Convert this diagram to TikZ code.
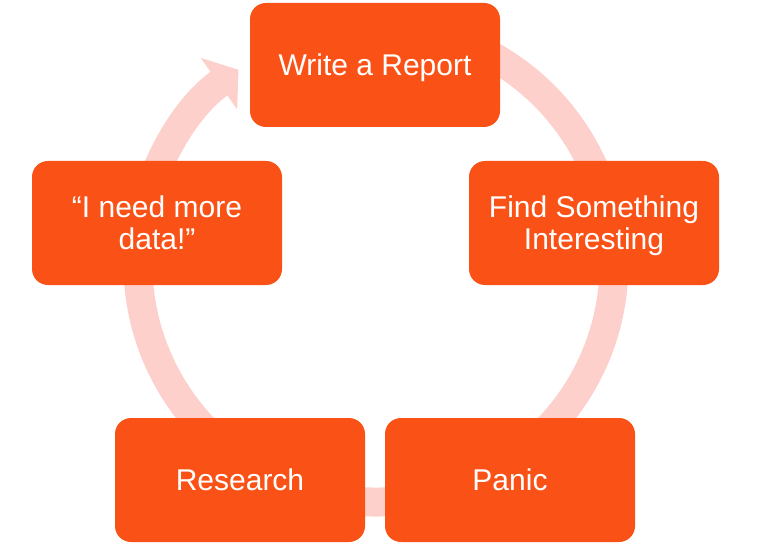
\documentclass[tikz,border=0pt]{standalone}
\usepackage{fontspec}
\setmainfont{Liberation Sans}
\usetikzlibrary{arrows.meta}
\definecolor{boxorange}{RGB}{250,82,22}
\definecolor{ringpink}{RGB}{253,208,204}

\begin{document}
\begin{tikzpicture}[x=1pt, y=1pt,
		stage/.style={fill=boxorange, rounded corners=16pt, minimum width=250pt, minimum height=124pt, inner sep=0pt, align=center, text=white, text depth=0pt, font=\fontsize{30}{32}\selectfont},
		ring/.style={draw=ringpink, line width=29pt}]
		\useasboundingbox (0,0) rectangle (762,544);
		\coordinate (c) at (376,280);

		% the cycle ring with its one head
		\draw[ring, -{Triangle[width=62pt, length=24pt]}] (c) ++(80:238) arc[start angle=80, end angle=-234.7, radius=238];

		\node[stage] (report) at (375,479) {Write a Report};
		\node[stage] (find) at (594,321) {Find Something\\Interesting};
		\node[stage] (panic) at (510,64) {Panic};
		\node[stage] (research) at (240,64) {Research};
		\node[stage] (data) at (157,321) {“I need more\\data!”};
	\end{tikzpicture}
\end{document}
